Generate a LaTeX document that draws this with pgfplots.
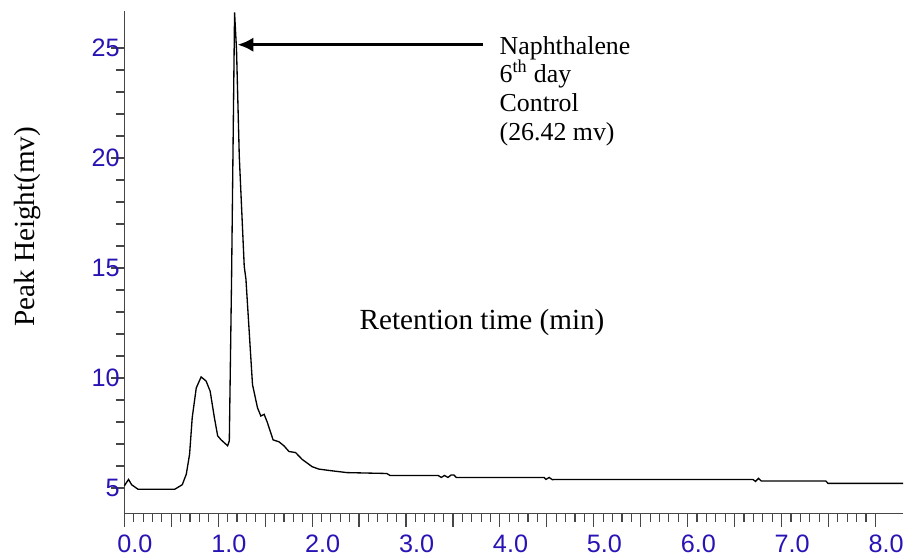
\documentclass[border=0pt]{standalone}
\usepackage{fontspec}
\setmainfont{Liberation Serif}
\newfontfamily\arialf{Liberation Sans}
\usepackage{pgfplots}
\pgfplotsset{compat=1.18}
\usetikzlibrary{arrows.meta}
\definecolor{tickblue}{RGB}{40,20,180}
\definecolor{axisgray}{RGB}{70,70,70}
\pgfplotstableread{
x y
0.000 5.10
0.045 5.39
0.077 5.15
0.147 4.94
0.536 4.94
0.617 5.15
0.660 5.63
0.695 6.54
0.723 8.20
0.766 9.55
0.818 10.05
0.871 9.86
0.914 9.40
0.959 8.20
0.994 7.37
1.030 7.19
1.100 6.92
1.118 7.14
1.142 14.5
1.174 26.62
1.195 24.9
1.224 20.1
1.277 15.07
1.295 14.5
1.365 9.70
1.418 8.65
1.454 8.27
1.489 8.35
1.524 7.97
1.584 7.19
1.647 7.10
1.700 6.92
1.753 6.66
1.824 6.61
1.894 6.30
2.000 5.97
2.071 5.86
2.195 5.79
2.371 5.70
2.794 5.66
2.830 5.57
3.342 5.57
3.376 5.48
3.410 5.57
3.447 5.48
3.480 5.59
3.510 5.59
3.535 5.48
4.471 5.48
4.490 5.39
4.524 5.48
4.559 5.38
4.594 5.39
6.695 5.39
6.722 5.30
6.754 5.44
6.783 5.32
7.471 5.32
7.495 5.21
8.296 5.21
}\chrom
\begin{document}
\begin{tikzpicture}
\begin{axis}[
  scale only axis,
  width=587.25pt, height=379pt,
  xmin=0, xmax=8.296, ymin=3.85, ymax=26.7,
  axis x line=bottom, axis y line=left,
  axis line style={-, draw=axisgray, line width=1.1pt},
  tick style={draw=axisgray, line width=0.9pt},
  tick align=outside,
  major tick length=10pt, minor tick length=6.5pt,
  xtick={0,0.5,...,8},
  xticklabels={0.0,,1.0,,2.0,,3.0,,4.0,,5.0,,6.0,,7.0,,8.0},
  minor x tick num=4,
  ytick={5,10,15,20,25},
  yticklabels={5,10,15,20,25},
  minor y tick num=4,
  ticklabel style={font=\arialf\fontsize{19}{22}\selectfont, text=tickblue},
  xticklabel style={xshift=8pt, yshift=-3pt},
  yticklabel style={xshift=10pt},
  ylabel={Peak Height(mv)},
  ylabel style={font=\fontsize{22}{26}\selectfont, at={(axis description cs:-0.124,0.57)}, anchor=center},
  clip=false,
]
\addplot[black, line width=1pt] table[x=x,y=y] {\chrom};
\node[font=\fontsize{22}{26}\selectfont] at (axis cs:3.81,12.54) {Retention time (min)};
\draw[line width=2.25pt, -{Latex[length=12pt,width=11pt]}] (axis cs:3.82,25.15) -- (axis cs:1.206,25.15);
\node[font=\fontsize{19.5}{21.75}\selectfont, align=left, anchor=north west, inner sep=0pt] at (axis cs:3.995,25.55) {Naphthalene\\6\textsuperscript{th} day\\Control\\(26.42 mv)};
\end{axis}
\path (current axis.south west) ++(-93.75pt,-34.5pt) rectangle ++(681pt,421.5pt);
\end{tikzpicture}
\end{document}
